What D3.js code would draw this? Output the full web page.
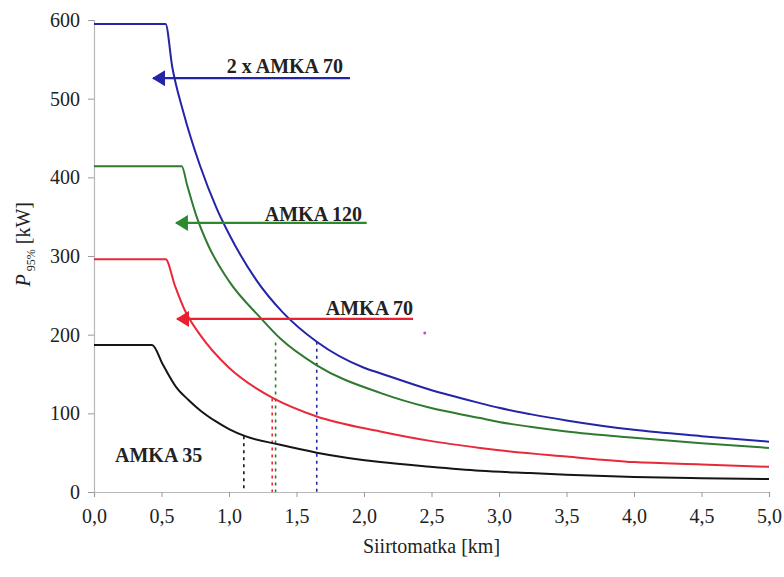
<!DOCTYPE html>
<html>
<head>
<meta charset="utf-8">
<script src="https://cdn.jsdelivr.net/npm/d3@7"></script>
<style>
  body { margin: 0; background: #fff; }
  svg text { font-family: "Liberation Serif", "Times New Roman", Times, serif; fill: #222; }
</style>
</head>
<body>
<script>
// tick labels
let xTicks = [0, 0.5, 1, 1.5, 2, 2.5, 3, 3.5, 4, 4.5, 5], // [km]
    yTicks = [0, 100, 200, 300, 400, 500, 600]; // [kW]

// curves: distance [km] vs P95% [kW]
let blueKm  = [0, 0.53, 0.58, 0.66, 0.785, 0.91, 1.0, 1.2, 1.4, 1.65, 2.0, 2.12, 2.49, 2.86, 3.0, 3.23, 3.5, 4.0, 4.5, 5.0],
    blueKw  = [595, 595, 540, 484, 415, 360, 328, 270, 228, 191, 158, 151, 130, 113, 107, 99, 91, 79, 71, 64];
let greenKm = [0, 0.65, 0.69, 0.76, 0.845, 1.0, 1.23, 1.38, 1.65, 2.12, 2.49, 2.86, 3.0, 3.23, 3.5, 4.0, 4.5, 5.0],
    greenKw = [414, 414, 390, 350, 314, 268, 222, 195, 161, 126, 107, 94, 89, 83, 77, 69, 62, 56];
let redKm   = [0, 0.53, 0.6, 0.67, 0.785, 1.0, 1.2, 1.33, 1.65, 2.12, 2.49, 2.86, 3.0, 3.5, 4.0, 4.5, 5.0],
    redKw   = [296, 296, 262, 232, 200, 158, 132, 119, 96, 77, 65, 56, 53, 45, 38, 35, 32];
let blackKm = [0, 0.43, 0.51, 0.61, 0.7, 0.785, 0.9, 1.0, 1.12, 1.38, 1.65, 2.12, 2.49, 2.86, 3.23, 3.5, 4.0, 4.5, 5.0],
    blackKw = [187, 187, 162, 133, 117, 104, 90, 80, 71, 60, 50, 38, 32, 27, 24, 22, 19, 17.5, 16.5];

// dotted drop lines (black, red, green, blue)
let dropKm = [1.11, 1.32, 1.345, 1.65],
    dropKw = [71, 119, 190, 191];

// arrow annotations (blue, green, red)
let arrowKw     = [526, 342, 220],
    arrowFromKm = [1.896, 2.02, 2.363],
    arrowToKm   = [0.437, 0.607, 0.615];

// labels
let labelText = ["2 x AMKA 70", "AMKA 120", "AMKA 70", "AMKA 35"],
    labelKm   = [1.844, 1.985, 2.363, 0.156],
    labelKw   = [532, 344, 225, 38],
    labelAnchor = ["end", "end", "end", "start"];

let colors = {
    blue: "#2424a8",
    green: "#2f7a2f",
    red: "#e8293b",
    black: "#151515"
};

let serif = "'Liberation Serif', 'Times New Roman', Times, serif";

let width = 784, height = 577;
let margin = { top: 20, right: 15, bottom: 85, left: 94 };

let svg = d3.select("body").append("svg")
    .attr("width", width)
    .attr("height", height)
    .style("font-family", serif);

let xScale = d3.scaleLinear()
    .domain([0, 5])
    .range([margin.left, 769]);

let yScale = d3.scaleLinear()
    .domain([0, 600])
    .range([492, margin.top]);

// axes
let commaFmt = v => d3.format(".1f")(v).replace(".", ",");

let xAxis = d3.axisBottom(xScale)
    .tickValues(xTicks)
    .tickFormat(commaFmt)
    .tickSize(5)
    .tickPadding(12);

let yAxis = d3.axisLeft(yScale)
    .tickValues(yTicks)
    .tickSize(6)
    .tickPadding(8);

let gx = svg.append("g")
    .attr("transform", `translate(0,${yScale(0)})`)
    .call(xAxis);

let gy = svg.append("g")
    .attr("transform", `translate(${xScale(0)},0)`)
    .call(yAxis);

[gx, gy].forEach(g => {
    g.attr("font-family", serif).attr("font-size", 20);
    g.select(".domain").attr("stroke", "#b8b8b8").attr("stroke-width", 1.2);
    g.selectAll(".tick line").attr("stroke", "#999");
    g.selectAll(".tick text").attr("fill", "#222");
});

// axis titles
svg.append("text")
    .attr("x", xScale(2.5))
    .attr("y", 553)
    .attr("text-anchor", "middle")
    .style("font-size", "20px")
    .text("Siirtomatka [km]");

let yTitle = svg.append("text")
    .attr("transform", `translate(30,${yScale(315)}) rotate(-90)`)
    .attr("text-anchor", "middle")
    .style("font-size", "20px");
yTitle.append("tspan").style("font-style", "italic").text("P");
yTitle.append("tspan").attr("dy", 5).style("font-size", "12px").text(" 95%");
yTitle.append("tspan").attr("dy", -5).text(" [kW]");

// dotted drop lines
let dropColors = [colors.black, colors.red, colors.green, colors.blue];
svg.append("g").selectAll("line")
    .data(dropKm)
    .join("line")
    .attr("x1", d => xScale(d))
    .attr("x2", d => xScale(d))
    .attr("y1", (d, i) => yScale(dropKw[i]))
    .attr("y2", yScale(0))
    .attr("stroke", (d, i) => dropColors[i])
    .attr("stroke-width", 1.6)
    .attr("stroke-dasharray", "3,4");

// curves
let lineGen = d3.line()
    .x(d => xScale(d[0]))
    .y(d => yScale(d[1]))
    .curve(d3.curveMonotoneX);

let curves = [
    { km: blueKm, kw: blueKw, color: colors.blue },
    { km: greenKm, kw: greenKw, color: colors.green },
    { km: redKm, kw: redKw, color: colors.red },
    { km: blackKm, kw: blackKw, color: colors.black }
];

svg.append("g").selectAll("path")
    .data(curves)
    .join("path")
    .attr("d", c => lineGen(c.km.map((k, i) => [k, c.kw[i]])))
    .attr("fill", "none")
    .attr("stroke", c => c.color)
    .attr("stroke-width", 2);

// arrows (head drawn at the left end)
let arrowColors = [colors.blue, "#2c8a2c", "#e82030"];
let defs = svg.append("defs");
arrowColors.forEach((c, i) => {
    defs.append("marker")
        .attr("id", "head" + i)
        .attr("markerUnits", "userSpaceOnUse")
        .attr("viewBox", "0 -8 13 16")
        .attr("refX", 12)
        .attr("refY", 0)
        .attr("markerWidth", 13)
        .attr("markerHeight", 16)
        .attr("orient", "auto")
        .append("path")
        .attr("d", "M0,-8L13,0L0,8Z")
        .attr("fill", c);
});

svg.append("g").selectAll("line")
    .data(arrowKw)
    .join("line")
    .attr("x1", (d, i) => xScale(arrowFromKm[i]))
    .attr("x2", (d, i) => xScale(arrowToKm[i]))
    .attr("y1", d => yScale(d))
    .attr("y2", d => yScale(d))
    .attr("stroke", (d, i) => arrowColors[i])
    .attr("stroke-width", 2.2)
    .attr("marker-end", (d, i) => `url(#head${i})`);

// labels
svg.append("g").selectAll("text")
    .data(labelText)
    .join("text")
    .attr("x", (d, i) => xScale(labelKm[i]))
    .attr("y", (d, i) => yScale(labelKw[i]))
    .attr("text-anchor", (d, i) => labelAnchor[i])
    .style("font-size", "20px")
    .style("font-weight", "bold")
    .text(d => d);

// small stray mark
svg.append("circle")
    .attr("cx", xScale(2.45))
    .attr("cy", yScale(202))
    .attr("r", 1.5)
    .attr("fill", "#c050c0");
</script>
</body>
</html>
